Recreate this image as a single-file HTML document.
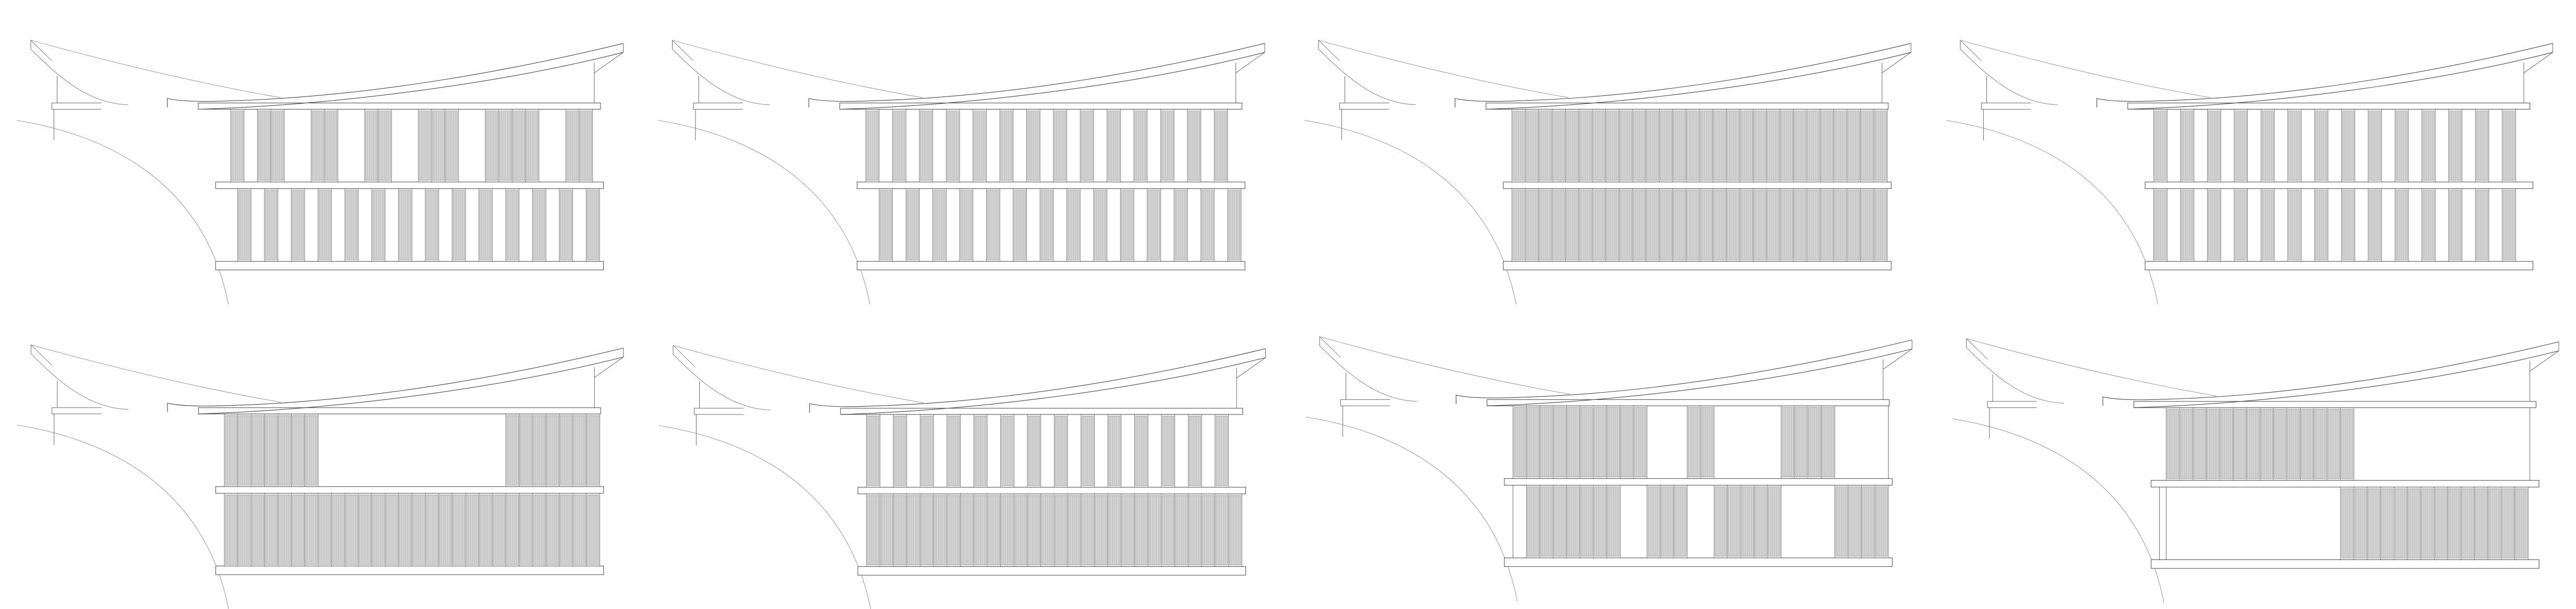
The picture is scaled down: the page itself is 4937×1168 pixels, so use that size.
<!DOCTYPE html>
<html><head><meta charset="utf-8"><style>html,body{margin:0;padding:0;background:#fff;}svg{display:block}</style></head>
<body>
<svg id="s" xmlns="http://www.w3.org/2000/svg" width="4937" height="1168" viewBox="0 0 4937 1168"></svg>
<script>
var svg=document.getElementById('s');var out='';
function rng(a,b){var r=[];for(var i=a;i<=b;i++)r.push(i);return r;}
function ev(a,b){var r=[];for(var i=a;i<=b;i+=2)r.push(i);return r;}
var A={s:156.3,p:10.83,n:28},B={s:161.5,p:10.83,n:27};
var SX=2.372,SY=1.033;
var panels=[
 {x:59,y:77,up:{sys:B,f:[0,2,3,6,7,10,11,14,15,16,19,20,21,22,25,26]},lo:{sys:A,f:ev(1,27)}},
 {x:1288.5,y:77,up:{sys:A,f:ev(0,26)},lo:{sys:A,f:ev(1,27)}},
 {x:2527,y:77,up:{sys:A,f:rng(0,27)},lo:{sys:A,f:rng(0,27)}},
 {x:3757,y:77,up:{sys:A,f:ev(0,26)},lo:{sys:A,f:ev(0,26)}},
 {x:59.3,y:661.3,up:{sys:A,f:rng(0,6).concat(rng(21,27))},lo:{sys:A,f:rng(0,27)}},
 {x:1290,y:662.4,up:{sys:A,f:ev(0,26)},lo:{sys:A,f:rng(0,27)}},
 {x:2529,y:645.8,up:{sys:A,f:rng(0,9).concat([13,14],rng(20,23))},lo:{sys:A,f:rng(1,7).concat([10,11,12],rng(15,19),rng(24,27))},extra:[[459.6,128.3,459.6,263.3],[156.3,275.7,156.3,410.7]]},
 {x:3768.6,y:649.3,up:{sys:B,f:rng(0,13)},lo:{sys:B,f:rng(13,26)},extra:[[455.3,128.3,455.3,263.3],[156,275.7,156,410.7],[161.5,275.7,161.5,410.7]]}
];
var NS=' vector-effect="non-scaling-stroke"';
function slot(x,y0,y1,w){
 var s='<rect x="'+x+'" y="'+y0+'" width="'+w+'" height="'+(y1-y0)+'" fill="#fff" stroke="#555" stroke-width="0.8"'+NS+'/>';
 s+='<rect x="'+(x+0.8)+'" y="'+(y0+3)+'" width="'+(w-1.6)+'" height="'+(y1-y0-6)+'" fill="#d4d4d4" stroke="#777" stroke-width="0.6"'+NS+'/>';
 for(var k=1;k<6;k++){var lx=x+0.8+k*(w-1.6)/6;s+='<line x1="'+lx+'" y1="'+(y0+3)+'" x2="'+lx+'" y2="'+(y1-3)+'" stroke="#aaa" stroke-width="0.5"'+NS+'/>';}
 return s;
}
panels.forEach(function(P){
 var g='<g transform="translate('+P.x+','+P.y+') scale('+SX+','+SY+')" fill="none" stroke="#555" stroke-width="0.9">';
 var L=function(d,c,w){g+='<path d="'+d+'" stroke="'+(c||'#555')+'" stroke-width="'+(w||0.9)+'"'+NS+'/>';};
 L('M0,0L0,16.7');L('M0,0L17,38.3','#777');
 L('M0,16.7C20,62 45,118 78.7,120','#777');
 L('M21.3,66.7L21.3,116.7');
 L('M57,116.7L17,116.7L17,128.3L57,128.3');
 L('M18.7,128.3L18.7,185.7');
 L('M0,0Q110,70 202,106.7','#888');
 L('M110.3,125L110.3,108.3Q125,116 160,112.7C280,105 400,50 478.7,6','#444',1.1);
 L('M478.7,6L478.7,22.7');
 L('M455.3,41.7L455.3,116.7');L('M455.3,60.7L478.7,22.7');
 L('M-11.3,149C60,175 140,260 159.7,490.7','#888');
 [[P.up,128.3,263.3],[P.lo,275.7,410.7]].forEach(function(r){
  var sy=r[0].sys;r[0].f.forEach(function(i){g+=slot(sy.s+i*sy.p,r[1],r[2],sy.p);});
 });
 (P.extra||[]).forEach(function(e){L('M'+e[0]+','+e[1]+'L'+e[2]+','+e[3]);});
 g+='<rect x="135.3" y="116.7" width="325" height="11.6" fill="#fff" stroke="#444" stroke-width="1"'+NS+'/>';
 g+='<rect x="149.3" y="263.3" width="313.4" height="12.4" fill="#fff" stroke="#444" stroke-width="1"'+NS+'/>';
 g+='<rect x="149.3" y="410.7" width="313.4" height="16" fill="#fff" stroke="#444" stroke-width="1"'+NS+'/>';
 L('M135.3,128.3C250,120 380,80 478.7,22.7','#444',1.1);
 g+='</g>';out+=g;
});
svg.innerHTML=out;
</script>
</body></html>
